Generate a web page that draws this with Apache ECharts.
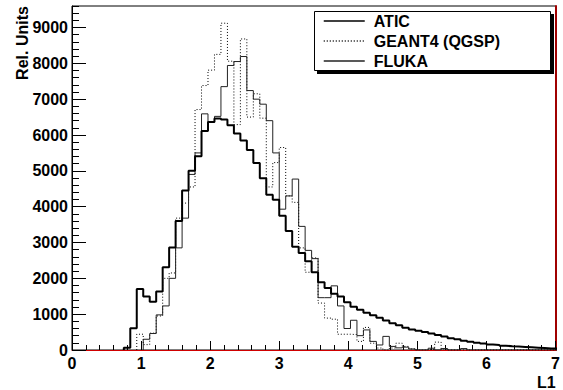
<!DOCTYPE html>
<html>
<head>
<meta charset="utf-8">
<script src="https://cdn.jsdelivr.net/npm/echarts@6/dist/echarts.min.js"></script>
<style>
html,body{margin:0;padding:0;background:#fff;}
#chart{width:563px;height:390px;}
</style>
</head>
<body>
<div id="chart"></div>
<script>
// Histogram: 80 bins from 0 to 7.5 (bin width 0.09375); only bins 0..74 are visible (axis 0..7)
const binLow = 0;
const binWidth = 0.09375;
const seriesNames = ['ATIC', 'GEANT4 (QGSP)', 'FLUKA'];
const xTickLabels = ['0', '1', '2', '3', '4', '5', '6', '7'];
const yTickLabels = ['0', '1000', '2000', '3000', '4000', '5000', '6000', '7000', '8000', '9000'];

const aticValues = [
  0, 0, 0, 0, 0, 0, 0, 0, 60, 610,
  1700, 1490, 1350, 1630, 2310, 2860, 3600, 4450, 5000, 5410,
  6110, 6360, 6460, 6430, 6270, 6040, 5850, 5580, 5220, 4790,
  4330, 4190, 3750, 3320, 2880, 2710, 2480, 2170, 1890, 1730,
  1570, 1490, 1330, 1210, 1120, 1040, 970, 900, 820, 750,
  690, 620, 570, 540, 500, 460, 420, 380, 330, 300,
  260, 230, 200, 180, 155, 140, 120, 105, 95, 85,
  75, 65, 55, 45, 40
];
const geantValues = [
  0, 0, 0, 0, 0, 0, 0, 0, 0, 0,
  440, 150, 470, 950, 2000, 2150, 3680, 4100, 4550, 6710,
  7380, 7810, 8250, 9120, 8060, 6290, 8680, 6500, 7150, 6470,
  4550, 5230, 5650, 4300, 4120, 2850, 2170, 2570, 1310, 890,
  860, 440, 440, 430, 240, 630, 190, 55, 0, 55,
  190, 100, 30, 0, 0, 20, 220, 30, 0, 0,
  0, 0, 0, 0, 0, 0, 0, 0, 0, 0,
  0, 0, 0, 0, 0
];
const flukaValues = [
  0, 0, 0, 0, 0, 0, 0, 0, 0, 0,
  0, 300, 460, 980, 1230, 2000, 2850, 3680, 4900, 5500,
  6590, 6360, 6520, 7350, 7940, 8050, 8190, 7240, 7000, 6860,
  6400, 5500, 3930, 4300, 4770, 3450, 2780, 2550, 1460, 1460,
  1790, 1230, 600, 830, 400, 560, 240, 140, 380, 100,
  60, 80, 30, 0, 0, 50, 0, 40, 0, 0,
  40, 0, 0, 0, 0, 0, 0, 0, 0, 0,
  0, 0, 0, 0, 0
];

// Build step points: start at the low edge of the first filled bin
function histPoints(vals) {
  let first = vals.findIndex(v => v > 0);
  if (first < 0) first = 0;
  const pts = [[binLow + first * binWidth, 0]];
  for (let i = first; i < vals.length; i++) {
    pts.push([binLow + i * binWidth, vals[i]]);
  }
  const n = vals.length;
  pts.push([binLow + n * binWidth, vals[n - 1]]);
  return pts;
}

const FONT = 'Liberation Sans, Arial, Helvetica, sans-serif';
const chart = echarts.init(document.getElementById('chart'), null, {renderer: 'svg'});

const option = {
  animation: false,
  backgroundColor: '#fff',
  grid: {
    left: 72, right: 7, top: 6, bottom: 38,
    containLabel: false,
    show: true, borderColor: '#000', borderWidth: 1, backgroundColor: 'transparent'
  },
  xAxis: {
    type: 'value', min: 0, max: 7, interval: 1,
    name: 'L1', nameLocation: 'end', nameGap: 0,
    nameTextStyle: {fontFamily: FONT, fontWeight: 'bold', fontSize: 16, color: '#000',
      align: 'right', verticalAlign: 'top', padding: [24, 0, 0, 0]},
    axisLine: {show: true, onZero: false, lineStyle: {color: '#d00000', width: 1}},
    axisTick: {show: true, inside: true, length: 9, lineStyle: {color: '#000', width: 1}},
    minorTick: {show: true, splitNumber: 5, length: 5, lineStyle: {color: '#000', width: 1}},
    splitLine: {show: false}, minorSplitLine: {show: false},
    axisLabel: {
      fontFamily: FONT, fontWeight: 'bold', fontSize: 16, color: '#000', margin: 5,
      formatter: v => xTickLabels[Math.round(v)] !== undefined ? xTickLabels[Math.round(v)] : ''
    }
  },
  yAxis: [
    {
      type: 'value', position: 'left', min: 0, max: 9600, interval: 1000,
      axisLine: {show: true, onZero: false, lineStyle: {color: '#000', width: 1}},
      axisTick: {show: true, inside: true, length: 14, lineStyle: {color: '#000', width: 1}},
      splitLine: {show: false},
      axisLabel: {
        fontFamily: FONT, fontWeight: 'bold', fontSize: 16, color: '#000', margin: 4,
        showMaxLabel: false,
        formatter: v => (v % 1000 === 0 && yTickLabels[v / 1000] !== undefined) ? yTickLabels[v / 1000] : ''
      }
    },
    {
      type: 'value', position: 'left', min: 0, max: 9600, interval: 200,
      axisLine: {show: false},
      axisTick: {show: true, inside: true, length: 7, lineStyle: {color: '#000', width: 1}},
      splitLine: {show: false},
      axisLabel: {show: false}
    },
    {
      type: 'value', position: 'right', min: 0, max: 9600,
      axisLine: {show: true, onZero: false, lineStyle: {color: '#a00000', width: 2}},
      axisTick: {show: false}, splitLine: {show: false}, axisLabel: {show: false}
    }
  ],
  legend: {
    show: true, orient: 'vertical', left: 323, top: 13, padding: 0,
    itemWidth: 41, itemHeight: 14, itemGap: 4,
    data: seriesNames,
    itemStyle: {opacity: 0},
    lineStyle: {width: 1.5},
    textStyle: {fontFamily: FONT, fontWeight: 'bold', fontSize: 16, color: '#000', padding: [0, 0, 0, 4]},
    z: 10
  },
  graphic: [
    {type: 'rect', z: 8, shape: {x: 317, y: 14, width: 237, height: 60}, style: {fill: '#000'}},
    {type: 'rect', z: 9, shape: {x: 314.5, y: 11.5, width: 236, height: 59}, style: {fill: '#fff', stroke: '#000', lineWidth: 1}},
    {type: 'text', z: 10, x: 22.5, y: 43, rotation: Math.PI / 2,
      style: {text: 'Rel. Units', font: 'bold 16px ' + FONT, fill: '#000', align: 'center', verticalAlign: 'middle'}}
  ],
  series: [
    {
      name: seriesNames[0], type: 'line', step: 'end', symbol: 'none', clip: true,
      data: histPoints(aticValues),
      lineStyle: {color: '#000', width: 2}, itemStyle: {color: '#000'}, z: 5
    },
    {
      name: seriesNames[1], type: 'line', step: 'end', symbol: 'none', clip: true,
      data: histPoints(geantValues),
      lineStyle: {color: '#000', width: 1, type: [1, 2]}, itemStyle: {color: '#000'}, z: 4
    },
    {
      name: seriesNames[2], type: 'line', step: 'end', symbol: 'none', clip: true,
      data: histPoints(flukaValues),
      lineStyle: {color: '#222', width: 1}, itemStyle: {color: '#222'}, z: 4
    }
  ]
};
chart.setOption(option);
</script>
</body>
</html>
